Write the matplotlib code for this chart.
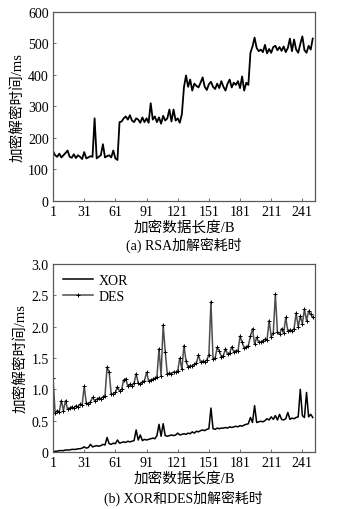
import numpy as np
import matplotlib.pyplot as plt

plt.rcParams['font.family'] = ['Liberation Serif', 'Noto Sans CJK SC']
plt.rcParams['axes.unicode_minus'] = False

# dane (co drugi bajt: 1, 3, 5, ..., 251)
length = list(range(1, 253, 2))

rsa_ms = [
    158, 145, 140, 150, 138, 145, 152, 160, 140, 137,
    148, 136, 145, 140, 133, 155, 135, 138, 142, 140,
    262, 135, 140, 145, 180, 138, 142, 145, 138, 160,
    135, 130, 250, 252, 262, 268, 258, 272, 255, 250,
    262, 258, 248, 265, 250, 262, 248, 310, 258, 268,
    250, 265, 245, 270, 255, 262, 290, 252, 290, 255,
    262, 248, 275, 360, 398, 362, 385, 350, 372, 365,
    360, 375, 392, 362, 352, 370, 378, 362, 355, 372,
    358, 380, 362, 350, 372, 385, 360, 375, 368, 380,
    358, 395, 350, 375, 368, 470, 490, 518, 485, 475,
    480, 472, 495, 468, 482, 470, 488, 492, 478, 488,
    476, 490, 472, 485, 515, 475, 512, 480, 470, 498,
    522, 478, 470, 492, 480, 515,
]

xor_ms = [
    0.00, 0.01, 0.01, 0.02, 0.02, 0.02, 0.03, 0.03, 0.03, 0.04,
    0.04, 0.04, 0.05, 0.05, 0.06, 0.08, 0.06, 0.07, 0.12, 0.08,
    0.09, 0.10, 0.09, 0.10, 0.12, 0.11, 0.23, 0.13, 0.12, 0.14,
    0.13, 0.19, 0.14, 0.15, 0.16, 0.15, 0.17, 0.16, 0.17, 0.18,
    0.35, 0.19, 0.27, 0.18, 0.20, 0.19, 0.20, 0.21, 0.22, 0.21,
    0.26, 0.44, 0.25, 0.45, 0.26, 0.25, 0.26, 0.27, 0.26, 0.27,
    0.30, 0.27, 0.28, 0.29, 0.28, 0.30, 0.29, 0.32, 0.30, 0.33,
    0.32, 0.34, 0.35, 0.34, 0.36, 0.37, 0.70, 0.37, 0.36, 0.38,
    0.37, 0.38, 0.38, 0.39, 0.38, 0.40, 0.39, 0.40, 0.41, 0.40,
    0.42, 0.41, 0.43, 0.44, 0.45, 0.55, 0.47, 0.74, 0.47, 0.48,
    0.49, 0.48, 0.50, 0.53, 0.51, 0.56, 0.52, 0.58, 0.51, 0.60,
    0.52, 0.51, 0.53, 0.63, 0.52, 0.54, 0.53, 0.55, 0.56, 1.00,
    0.58, 0.55, 0.95, 0.56, 0.60, 0.55,
]

des_ms = [
    1.18, 0.62, 0.66, 0.64, 0.82, 0.66, 0.82, 0.68, 0.70, 0.72,
    0.70, 0.74, 0.72, 0.76, 0.75, 1.05, 0.78, 0.77, 0.80, 0.87,
    0.82, 0.84, 0.86, 0.85, 0.88, 0.90, 1.35, 1.28, 0.92, 0.93,
    0.95, 1.04, 0.97, 1.00, 1.15, 1.17, 1.05, 1.08, 1.06, 1.10,
    1.25, 1.10, 1.08, 1.12, 1.14, 1.27, 1.13, 1.15, 1.16, 1.18,
    1.20, 1.65, 1.22, 2.03, 1.60, 1.24, 1.26, 1.25, 1.28, 1.27,
    1.30, 1.50, 1.32, 1.70, 1.45, 1.36, 1.38, 1.37, 1.40, 1.42,
    1.55, 1.43, 1.45, 1.44, 1.47, 1.55, 2.40, 1.48, 1.50, 1.67,
    1.62, 1.52, 1.54, 1.65, 1.56, 1.58, 1.68, 1.60, 1.62, 1.61,
    1.85, 1.75, 1.66, 1.68, 1.70, 1.85, 1.97, 1.72, 1.83, 1.75,
    1.76, 1.78, 1.80, 1.79, 2.10, 1.84, 1.90, 2.52, 1.92, 1.88,
    1.97, 1.90, 2.15, 1.93, 1.95, 1.94, 1.97, 2.22, 2.00, 2.17,
    2.05, 2.28, 2.10, 2.25, 2.20, 2.15,
]

xticks = [1, 31, 61, 91, 121, 151, 181, 211, 241]


def styleAxes(ax):
    """Wspólny wygląd osi dla obu wykresów"""
    ax.set_xlim(1, 253)
    ax.set_xticks(xticks)
    for s in ax.spines.values():
        s.set_color('0.35')
        s.set_linewidth(0.9)
    ax.tick_params(direction='in', length=2, width=0.6, color='0.35',
                   labelsize=10, pad=3)
    ax.set_xlabel('加密数据长度/B', fontsize=10.5, labelpad=2)
    ax.set_ylabel('加密解密时间/ms', fontsize=10.5, labelpad=2)


fig = plt.figure(figsize=(3.4, 5.1), dpi=100)

# wykres (a)
ax1 = fig.add_axes([0.156, 0.604, 0.770, 0.371])
ax1.plot(length, rsa_ms, color='black', linewidth=1.3)
ax1.set_ylim(0, 600)
ax1.set_yticks(range(0, 601, 100))
styleAxes(ax1)
fig.text(0.54, 1 - 245 / 510, '(a) RSA加解密耗时', ha='center', va='center', fontsize=10)

# wykres (b)
ax2 = fig.add_axes([0.156, 0.112, 0.770, 0.368])
ax2.plot(length, xor_ms, color='black', linewidth=1.1, label='XOR')
ax2.plot(length, des_ms, color='0.3', linewidth=1.1, marker='+', markersize=3,
         markeredgewidth=0.7, markeredgecolor='black', label='DES')
ax2.set_ylim(0, 3.0)
ax2.set_yticks(np.arange(0, 3.01, 0.5))
ax2.set_yticklabels(['0', '0.5', '1.0', '1.5', '2.0', '2.5', '3.0'])
styleAxes(ax2)
ax2.legend(loc='upper left', frameon=False, fontsize=10, handlelength=2.2,
           borderaxespad=0.3, labelspacing=0.2, handletextpad=0.4)
fig.text(0.54, 1 - 498 / 510, '(b) XOR和DES加解密耗时', ha='center', va='center', fontsize=10)

fig.savefig('out.png', dpi=100)
